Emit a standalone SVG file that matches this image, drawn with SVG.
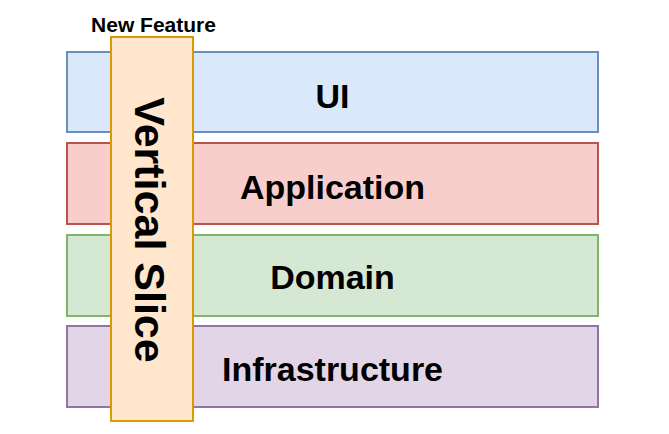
<svg xmlns="http://www.w3.org/2000/svg" width="669" height="434" viewBox="0 0 669 434">
<style>
.layer{stroke-width:2}
.lbl{font-family:"Liberation Sans",Arial,sans-serif;font-weight:bold;fill:#000;text-anchor:middle}
</style>
<rect x="0" y="0" width="669" height="434" fill="#fff"/>
<g id="ui"><rect class="layer" x="67" y="52" width="531" height="80" fill="#dae8fc" stroke="#6c8ebf"/><text class="lbl" x="332.5" y="108" font-size="34">UI</text></g>
<g id="application"><rect class="layer" x="67" y="143" width="531" height="81" fill="#f8cecc" stroke="#b85450"/><text class="lbl" x="332.5" y="199" font-size="34">Application</text></g>
<g id="domain"><rect class="layer" x="67" y="235" width="531" height="81" fill="#d5e8d4" stroke="#82b366"/><text class="lbl" x="332.5" y="289" font-size="34">Domain</text></g>
<g id="infrastructure"><rect class="layer" x="67" y="326" width="531" height="81" fill="#e1d5e7" stroke="#9673a6"/><text class="lbl" x="332.5" y="381" font-size="34">Infrastructure</text></g>
<g id="vertical-slice"><rect class="layer" x="111" y="37" width="82" height="384" fill="#ffe6cc" stroke="#d79b00"/><text class="lbl" font-size="43" transform="translate(135,230) rotate(90)">Vertical Slice</text></g>
<g id="new-feature"><text class="lbl" x="153.5" y="32" font-size="21">New Feature</text></g>
<g id="connectors"></g>
</svg>
